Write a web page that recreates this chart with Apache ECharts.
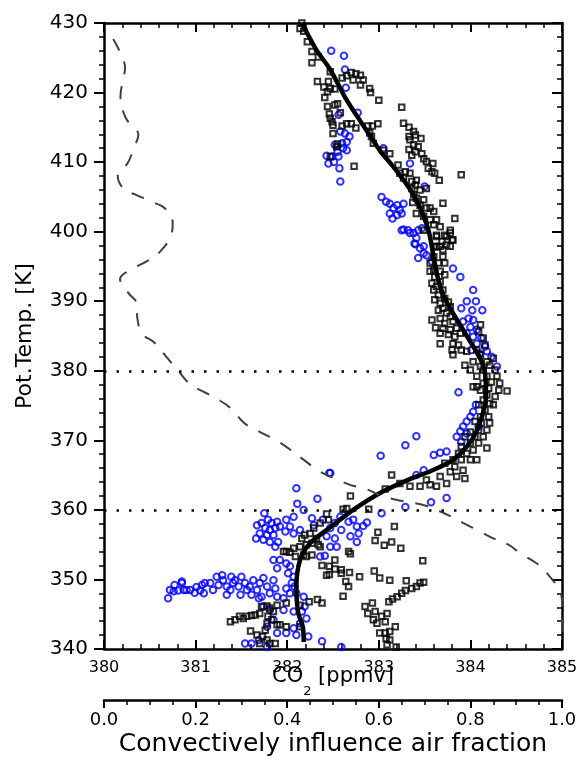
<!DOCTYPE html>
<html>
<head>
<meta charset="utf-8">
<title>CO2 vs potential temperature</title>
<script src="https://cdn.jsdelivr.net/npm/echarts@6/dist/echarts.min.js"></script>
<style>
  html, body { margin: 0; padding: 0; background: #fff; }
  #chart { width: 579px; height: 757px; }
</style>
</head>
<body>
<div id="chart"></div>
<script>
// [CO2 ppmv, pot. temp K] - black squares
var squares = [
  [382.16,430.0],[382.14,429.2],[382.18,428.8],[382.22,427.3],[382.27,425.9],[382.27,424.3],[382.34,425.1],
  [382.47,423.0],[382.33,421.6],[382.45,421.6],[382.40,420.8],[382.47,420.6],[382.52,420.5],[382.44,420.1],
  [382.41,419.3],[382.55,418.4],[382.52,418.2],[382.44,418.0],[382.58,417.1],[382.46,416.9],[382.47,416.3],
  [382.49,415.8],[382.50,415.3],[382.60,415.2],[382.65,415.5],[382.70,415.5],[382.75,414.9],[382.88,415.2],
  [382.93,415.2],[382.99,415.5],[382.50,414.1],[382.55,412.6],[382.54,412.2],[382.47,410.8],[382.73,409.4],
  [382.60,422.1],[382.65,422.4],[382.70,422.9],[382.75,422.7],[382.80,422.5],[382.83,421.8],[382.80,421.1],
  [382.72,421.8],[382.90,420.6],[382.91,420.0],[383.00,418.9],[383.25,417.9],[383.27,415.6],[383.33,415.0],
  [383.38,414.4],[383.33,413.7],[383.40,413.9],[383.34,413.2],[383.46,413.4],[383.38,412.5],[383.43,412.2],
  [383.33,411.8],[383.40,411.5],[383.36,411.0],[383.47,411.2],[383.49,410.5],[383.52,410.1],[383.59,409.8],
  [383.54,409.1],[383.58,408.6],[383.61,408.4],[383.66,407.4],[383.21,409.6],[383.29,408.6],[383.23,408.4],
  [383.27,407.7],[383.34,408.4],[383.36,407.2],[383.41,407.4],[383.40,406.7],[383.36,406.2],[383.45,406.0],
  [383.52,406.2],[383.38,405.3],[383.41,404.8],[383.49,404.6],[383.37,404.2],[383.45,403.8],[383.52,403.4],
  [383.56,403.4],[383.60,402.9],[383.41,402.6],[383.49,402.2],[383.56,401.7],[383.63,401.7],[383.60,401.0],
  [383.67,400.7],[383.49,400.2],[383.70,404.1],[383.83,401.9],[383.90,408.2],[383.78,400.2],[383.74,399.3],
  [383.81,398.8],[383.63,399.5],[383.69,398.6],[383.60,397.9],[383.67,397.9],[383.78,397.9],[383.05,411.7],
  [383.12,411.2],[382.92,413.7],[382.94,412.7],[382.90,414.2],
  [383.63,399.3],[383.72,399.5],[383.78,399.8],[383.80,398.8],[383.74,398.1],[383.63,397.8],[383.70,397.4],
  [383.60,396.4],[383.70,396.4],[383.56,395.5],[383.65,395.5],[383.72,395.5],[383.60,394.5],[383.67,394.3],
  [383.56,394.3],[383.61,393.5],[383.72,393.8],[383.67,392.8],[383.58,392.6],[383.63,392.1],[383.60,391.6],
  [383.70,391.6],[383.65,390.9],[383.72,390.4],[383.61,390.2],[383.67,389.7],[383.76,389.9],[383.70,389.0],
  [383.78,389.2],[383.65,388.7],[383.74,388.3],[383.58,387.3],[383.67,387.5],[383.78,387.8],[383.81,387.1],
  [383.72,386.8],[383.62,386.2],[383.70,386.1],[383.78,385.9],[383.85,386.1],[383.67,385.4],[383.76,385.2],
  [383.83,384.9],[383.89,385.4],[384.11,386.6],[384.09,385.6],[384.14,384.7],[383.67,383.9],[383.81,383.9],
  [383.87,383.7],[383.80,383.0],[383.90,383.0],[383.81,382.3],[383.96,382.8],[384.07,383.0],[384.16,383.7],
  [384.11,382.3],[384.25,381.8],[384.18,381.3],[383.94,380.8],[384.03,381.3],[384.11,380.6],[384.14,380.1],
  [384.21,380.8],[384.27,380.1],[384.00,380.1],[384.07,379.2],[384.18,379.2],[384.29,379.2],[384.32,378.2],
  [384.23,378.4],[384.14,378.2],[384.07,377.7],[384.03,377.7],[384.11,377.2],[384.20,377.5],[384.31,377.2],
  [384.40,377.1],[384.18,376.5],[384.27,376.3],[384.14,375.8],[384.21,375.3],[384.09,375.1],[384.16,374.4],
  [384.25,375.1],[384.20,373.4],[384.11,373.4],[384.05,372.7],[384.12,372.5],[384.21,372.5],[384.18,371.5],
  [384.09,371.5],[384.00,371.2],[384.05,370.5],[384.14,370.5],[383.94,370.5],[384.00,369.6],[384.09,369.6],
  [384.18,368.9],[383.90,369.1],[383.87,368.1],[383.96,368.1],[384.03,368.6],[383.81,367.2],[383.90,367.2],
  [384.00,367.2],[384.07,367.2],[383.72,366.7],[383.83,366.2],[383.92,365.7],[383.78,365.5],[383.67,364.8],
  [383.85,364.8],[383.94,364.5],[383.74,363.8],[383.63,363.4],[383.52,364.3],[383.56,363.6],[383.45,363.4],
  [383.34,363.4],[383.23,363.8],[383.14,365.0],[383.07,363.0],
  [382.69,362.0],[382.89,360.1],[382.61,360.1],[382.65,360.2],[382.43,359.4],[382.45,358.6],[382.36,358.1],
  [382.29,357.4],[382.25,356.6],[382.19,356.4],[382.16,355.9],[382.32,355.9],[382.27,355.2],[382.21,355.0],
  [382.14,354.7],[382.07,354.5],[382.03,353.9],[382.09,353.3],[381.99,354.0],[381.96,354.0],[382.27,353.5],
  [382.21,353.3],[382.18,353.5],[382.34,355.0],[382.36,354.7],[382.99,356.8],[383.17,357.6],[382.96,355.6],
  [383.06,354.9],[383.14,355.4],[383.24,354.5],[382.67,354.0],[382.69,353.7],[382.52,352.8],[382.38,352.0],
  [382.46,351.9],[382.52,351.5],[382.59,351.4],[382.43,350.6],[382.46,350.7],[382.68,351.0],[382.59,350.9],
  [382.79,350.4],[382.95,351.2],[383.01,350.2],[383.12,349.9],[383.48,352.7],[383.30,349.8],[383.45,349.5],
  [383.49,349.6],[383.41,349.0],[383.36,348.7],[383.29,348.4],[383.25,348.0],[383.20,347.5],[383.15,347.2],
  [383.11,346.8],[382.64,349.7],[382.67,349.0],[382.61,347.6],[382.38,346.6],[382.33,347.1],[382.24,346.8],
  [382.14,346.3],[381.99,346.6],[382.85,346.1],[382.93,346.6],[382.88,345.1],[382.96,345.4],[382.94,344.2],
  [382.98,343.7],[383.07,343.9],[383.03,344.7],[383.09,345.1],[383.18,343.2],[383.01,342.3],[383.07,342.3],
  [383.12,342.5],[383.08,341.5],[383.12,341.3],[383.09,340.6],[383.19,340.3],[381.99,343.2],[381.92,343.5],
  [382.14,343.2],
  [381.38,343.9],[381.43,344.2],[381.48,344.7],[381.52,344.4],[381.56,344.7],[381.61,344.8],[381.65,344.9],
  [381.70,345.1],[381.72,346.1],[381.78,346.2],[381.81,345.9],[381.85,345.4],[381.89,346.3],[381.79,344.7],
  [381.83,344.2],[381.89,343.5],[381.78,343.7],[381.76,342.7],[381.60,342.6],[381.67,342.0],[381.73,341.8],
  [381.78,341.3],[381.81,340.8],[381.87,340.8],[381.70,340.8]
];

// [CO2 ppmv, pot. temp K] - blue circles
var circles = [
  [382.48,426.0],[382.62,425.3],[382.63,423.3],[382.64,420.7],[382.77,417.1],[382.56,416.8],[382.58,414.4],
  [382.63,414.1],[382.68,413.7],[382.65,412.9],[382.60,412.7],[382.52,412.5],[382.61,412.0],[382.65,411.7],
  [382.55,411.5],[382.43,410.9],[382.49,410.8],[382.56,410.8],[382.45,409.8],[382.51,410.0],[382.57,409.1],
  [382.58,407.2],[383.05,412.0],[383.34,409.8],[383.03,405.0],[383.08,404.3],[383.12,404.0],[383.20,403.8],
  [383.27,404.0],[383.16,403.4],[383.23,403.1],[383.12,402.6],[383.20,402.4],[383.25,402.6],[383.15,401.9],
  [383.27,400.3],[383.32,400.2],[383.38,399.8],[383.43,400.2],[383.47,400.5],[383.41,399.1],[383.40,398.2],
  [383.49,397.9],[383.50,406.5],
  [383.25,400.2],[383.34,399.8],[383.39,398.3],[383.45,397.6],[383.49,396.9],[383.52,396.6],[383.43,396.2],
  [383.58,395.7],[383.81,394.7],[383.89,393.5],[384.03,391.6],[383.96,390.0],[384.06,390.0],[383.90,389.0],
  [384.02,388.7],[384.13,388.7],[383.98,387.5],[384.03,387.3],[383.92,387.1],[384.00,386.3],[384.07,385.9],
  [383.96,385.4],[384.03,384.9],[384.12,384.7],[384.07,383.9],[384.16,383.5],[384.01,383.0],[384.10,382.5],
  [384.23,382.0],[384.18,382.8],[384.29,380.6],[383.87,376.9],[384.06,375.1],[384.03,374.1],[384.00,373.4],
  [383.96,372.7],[383.92,372.0],[383.89,371.3],[383.85,370.5],[383.90,369.8],[383.41,370.6],[383.29,369.3],
  [383.02,367.8],[383.60,367.9],[383.67,368.2],[383.74,368.4],[383.49,365.7],[383.41,365.0],[382.47,365.3],
  [383.96,371.0],[384.09,372.0],
  [382.10,363.1],[382.11,360.9],[382.18,360.0],[382.33,361.6],[382.46,365.3],[383.03,359.5],[383.29,360.4],
  [383.57,361.1],[383.74,361.7],[381.99,358.6],[382.07,359.0],[382.03,357.6],[381.92,357.6],[381.98,356.9],
  [382.07,356.6],[382.14,357.1],[382.27,358.8],[382.29,357.8],[382.39,358.6],[382.47,357.4],[382.52,358.1],
  [382.59,357.1],[382.67,358.3],[382.72,358.6],[382.76,357.6],[382.78,356.6],[382.83,357.7],[382.87,358.2],
  [382.58,359.0],[382.43,356.2],[382.52,355.9],[382.47,354.7],[382.36,353.3],[382.41,353.4],[382.54,354.7],
  [382.76,355.4],[382.69,356.2],[381.92,352.8],[381.99,352.3],[382.03,351.9],[382.01,350.9],[382.07,350.4],
  [382.05,349.5],[381.99,348.7],[382.08,349.0],[382.10,348.0],[382.03,348.0],[381.96,347.3],[382.18,347.5],
  [382.19,346.1],[382.16,345.4],[382.07,345.4],[381.96,345.6],[382.21,344.4],[382.14,343.7],[382.07,343.0],
  [382.10,342.0],[381.99,342.3],[382.23,341.8],[382.38,341.1],[382.59,340.3],
  [381.75,359.5],[381.67,357.8],[381.72,358.1],[381.79,358.6],[381.83,358.1],[381.89,358.3],[381.76,357.4],
  [381.81,357.1],[381.87,357.4],[381.70,356.6],[381.78,356.4],[381.85,356.4],[381.74,355.7],[381.81,355.4],
  [381.66,355.9],[381.90,355.4],[381.87,354.7],[381.85,352.8],[381.89,351.6],
  [380.85,349.7],[380.87,348.5],[380.90,348.5],[380.94,348.5],[380.99,348.1],[381.01,348.9],[381.05,348.4],
  [381.07,349.2],[381.09,348.0],[381.10,349.5],[381.16,349.5],[381.19,348.5],[381.23,350.4],[381.25,349.2],
  [381.29,350.6],[381.30,349.9],[381.34,349.0],[381.34,347.8],[381.38,348.5],[381.39,350.4],[381.41,349.5],
  [381.43,349.9],[381.47,349.0],[381.49,347.8],[381.50,350.4],[381.54,349.5],[381.56,348.5],[381.59,349.0],
  [381.61,347.8],[381.63,349.9],[381.67,348.5],[381.69,347.3],[381.70,349.5],[381.72,347.5],[381.74,350.2],
  [381.78,349.0],[381.81,348.0],[381.85,349.9],[381.87,348.7],[381.89,347.5],
  [381.74,346.1],[381.81,345.6],[381.85,344.2],[381.78,343.2],[381.89,342.3],[381.69,341.3],[381.61,340.8],
  [381.54,340.8],[381.78,340.3],
  [380.70,347.3],[380.72,348.5],[380.77,349.2],[380.81,348.4],[380.85,349.5],[380.76,348.3]
];

// smooth profile through the data [CO2, pot. temp]
var fitLine = [
  [382.16,430.0],[382.32,426.1],[382.47,423.3],[382.65,418.9],[382.89,414.1],[383.01,411.7],[383.16,409.3],
  [383.32,406.5],[383.41,404.6],[383.49,402.2],[383.55,399.8],[383.61,395.5],[383.65,393.1],[383.71,390.7],
  [383.81,388.3],[383.92,385.9],[384.03,383.5],[384.10,382.0],[384.16,379.6],[384.17,376.3],[384.10,372.4],
  [383.99,369.6],[383.81,367.2],[383.57,365.6],[383.37,364.6],[383.01,362.4],[382.72,360.0],[382.47,357.5],
  [382.25,355.2],[382.14,352.8],[382.10,348.9],[382.12,345.2],[382.17,343.2],[382.18,341.0]
];

// convectively influenced air fraction [fraction, pot. temp]
var convFraction = [
  [0.020,427.7],[0.035,425.8],[0.046,423.5],[0.041,421.8],[0.036,419.4],[0.048,416.3],[0.075,413.9],
  [0.066,412.2],[0.052,409.9],[0.030,408.0],[0.044,406.1],[0.070,405.3],[0.104,404.3],[0.132,403.4],
  [0.150,401.2],[0.146,399.4],[0.122,397.1],[0.095,395.8],[0.060,394.6],[0.035,393.2],[0.053,391.2],
  [0.071,389.7],[0.073,387.5],[0.084,385.3],[0.111,384.0],[0.140,381.7],[0.162,380.0],[0.189,378.0],
  [0.217,377.0],[0.251,375.8],[0.277,374.6],[0.306,372.5],[0.335,371.4],[0.384,369.7],[0.432,367.4],
  [0.472,365.5],[0.512,364.3],[0.537,363.6],[0.572,363.0],[0.603,362.1],[0.642,361.4],[0.697,360.7],
  [0.726,360.0],[0.759,359.0],[0.785,358.1],[0.821,356.9],[0.850,355.9],[0.883,355.0],[0.908,353.8],
  [0.945,352.3],[0.967,350.9],[0.991,348.8],[1.000,347.0],[1.000,344.0],[1.000,342.0]
];

// tropopause layer bounds
var refLevels = [360, 380];

var font = 'DejaVu Sans';

var chart = echarts.init(document.getElementById('chart'), null, { renderer: 'canvas' });

var option = {
  animation: false,
  backgroundColor: '#fff',
  textStyle: { fontFamily: font, color: '#000' },
  grid: { left: 104, right: 17, top: 23, bottom: 108, containLabel: false, outerBoundsMode: 'none' },
  xAxis: [
    {
      type: 'value', min: 380, max: 385, interval: 1, position: 'bottom',
      axisLine: { show: true, onZero: false, lineStyle: { color: '#000', width: 2.5 } },
      axisTick: { show: true, inside: true, length: 9, lineStyle: { color: '#000', width: 2 } },
      minorTick: { show: true, splitNumber: 5, length: 5, lineStyle: { color: '#000', width: 1.5 } },
      axisLabel: { fontSize: 16, color: '#000', margin: 11, fontFamily: font, showMinLabel: true, showMaxLabel: true },
      splitLine: { show: false },
      name: '{a|CO}{b|2}{a| [ppmv]}',
      nameLocation: 'middle', nameGap: 6, nameMoveOverlap: false,
      nameTextStyle: {
        color: '#000',
        rich: {
          a: { fontSize: 21, fontFamily: font, color: '#000' },
          b: { fontSize: 13, fontFamily: font, color: '#000', padding: [30, 0, 0, 0] }
        }
      }
    },
    {
      type: 'value', min: 0, max: 1, interval: 0.2, position: 'bottom', offset: 51,
      axisLine: { show: true, onZero: false, lineStyle: { color: '#000', width: 2.5 } },
      axisTick: { show: true, inside: false, length: 8, lineStyle: { color: '#000', width: 2 } },
      minorTick: { show: true, splitNumber: 4, length: 5, lineStyle: { color: '#000', width: 1.5 } },
      axisLabel: {
        fontSize: 18, color: '#000', margin: 11, fontFamily: font, showMinLabel: true, showMaxLabel: true,
        formatter: function (v) { return v.toFixed(1); }
      },
      splitLine: { show: false },
      name: 'Convectively influence air fraction',
      nameLocation: 'middle', nameGap: 32, nameMoveOverlap: false,
      nameTextStyle: { fontSize: 25, color: '#000', fontFamily: font }
    },
    {
      type: 'value', min: 380, max: 385, interval: 1, position: 'top',
      axisLine: { show: true, onZero: false, lineStyle: { color: '#000', width: 2.5 } },
      axisTick: { show: true, inside: true, length: 9, lineStyle: { color: '#000', width: 2 } },
      minorTick: { show: true, splitNumber: 5, length: 5, lineStyle: { color: '#000', width: 1.5 } },
      axisLabel: { show: false },
      splitLine: { show: false }
    }
  ],
  yAxis: [
    {
      type: 'value', min: 340, max: 430, interval: 10, position: 'left',
      axisLine: { show: true, onZero: false, lineStyle: { color: '#000', width: 2.5 } },
      axisTick: { show: true, inside: false, length: 10, lineStyle: { color: '#000', width: 2 } },
      minorTick: { show: true, splitNumber: 5, length: 5, lineStyle: { color: '#000', width: 1.5 } },
      axisLabel: { fontSize: 20, color: '#000', margin: 16, fontFamily: font, showMinLabel: true, showMaxLabel: true },
      splitLine: { show: false },
      name: 'Pot.Temp. [K]',
      nameLocation: 'middle', nameGap: 68, nameMoveOverlap: false,
      nameTextStyle: { fontSize: 22, color: '#000', fontFamily: font }
    },
    {
      type: 'value', min: 340, max: 430, interval: 10, position: 'right',
      axisLine: { show: true, onZero: false, lineStyle: { color: '#000', width: 2.5 } },
      axisTick: { show: true, inside: true, length: 10, lineStyle: { color: '#000', width: 2 } },
      minorTick: { show: true, splitNumber: 5, length: 5, lineStyle: { color: '#000', width: 1.5 } },
      axisLabel: { show: false },
      splitLine: { show: false }
    }
  ],
  series: [
    {
      name: 'circles', type: 'scatter', xAxisIndex: 0, yAxisIndex: 0,
      data: circles,
      symbol: 'circle', symbolSize: 6.5,
      itemStyle: { color: 'transparent', borderColor: '#0000ff', borderWidth: 2 },
      silent: true
    },
    {
      name: 'squares', type: 'scatter', xAxisIndex: 0, yAxisIndex: 0,
      data: squares,
      symbol: 'rect', symbolSize: 5.5,
      itemStyle: { color: 'transparent', borderColor: '#000', borderWidth: 2 },
      silent: true
    },
    {
      name: 'fit', type: 'line', xAxisIndex: 0, yAxisIndex: 0,
      data: fitLine, smooth: 0.3, showSymbol: false,
      lineStyle: { color: '#000', width: 4.5 },
      silent: true,
      markLine: {
        silent: true, symbol: 'none', label: { show: false },
        lineStyle: { color: '#000', width: 2.5, type: [2.5, 10] },
        data: refLevels.map(function (v) { return { yAxis: v }; })
      }
    },
    {
      name: 'convective', type: 'line', xAxisIndex: 1, yAxisIndex: 0,
      data: convFraction, smooth: 0.4, showSymbol: false,
      lineStyle: { color: '#404040', width: 2, type: [13, 12] },
      silent: true
    }
  ]
};

chart.setOption(option);
</script>
</body>
</html>
